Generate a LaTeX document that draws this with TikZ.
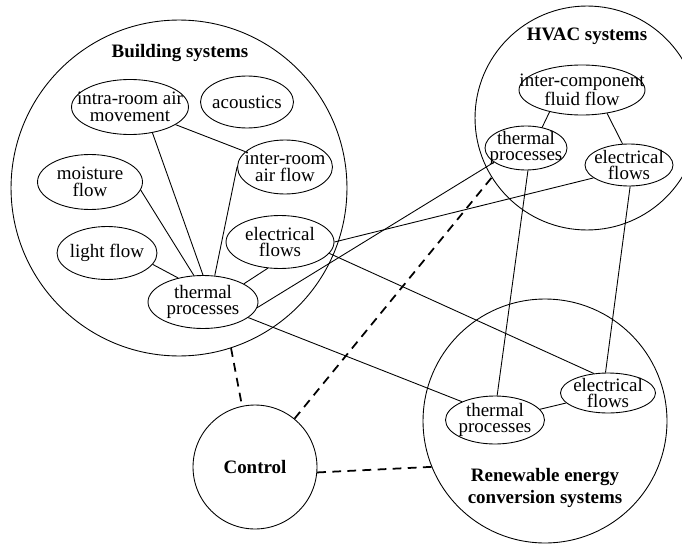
\documentclass[tikz,border=0pt]{standalone}
\usepackage{fontspec}
\setmainfont{Liberation Serif}
\usetikzlibrary{shapes.geometric}

\begin{document}
\begin{tikzpicture}[
    x=0.02cm, y=-0.02cm,
    system/.style={circle, draw, line width=0.5pt, inner sep=0pt},
    proc/.style={ellipse, draw, line width=0.5pt, inner sep=0pt},
    ptxt/.style={align=center, inner sep=0pt, font=\fontsize{10.8}{9.5}\selectfont},
    title/.style={align=center, font=\fontsize{10.8}{13}\selectfont\bfseries},
    link/.style={line width=0.5pt},
    ctrllink/.style={line width=1pt, dash pattern=on 5pt off 3.6pt}
]
\clip (0,0) rectangle (682,544);

% System circles
\node[system, minimum size=6.72cm] (bld) at (179,188) {};
\node[system, minimum size=4.48cm] (hvac) at (587,118) {};
\node[system, minimum size=4.88cm] (ren) at (545,421) {};
\node[system, minimum size=2.48cm, title] (ctrl) at (255,467) {Control};

% Building systems
\node[title] (bldlbl) at (180,53) {Building systems};
\node[proc, minimum width=2.34cm, minimum height=1.1cm, label={[ptxt]center:intra-room air\\movement}] (intra) at (130,107) {};
\node[proc, minimum width=1.86cm, minimum height=1.04cm, label={[ptxt]center:acoustics}] (acou) at (247,102) {};
\node[proc, minimum width=1.9cm, minimum height=1.08cm, label={[ptxt]center:inter-room\\air flow}] (inter) at (285,167) {};
\node[proc, minimum width=2.1cm, minimum height=1.1cm, label={[ptxt]center:moisture\\flow}] (moist) at (90,182) {};
\node[proc, minimum width=2.0cm, minimum height=1.06cm, label={[ptxt]center:light flow}] (light) at (107,253) {};
\node[proc, minimum width=2.16cm, minimum height=1.06cm, label={[ptxt]center:electrical\\flows}] (elecB) at (280,242) {};
\node[proc, minimum width=2.2cm, minimum height=1.06cm, label={[ptxt]center:thermal\\processes}] (thermB) at (203,302) {};

% HVAC systems
\node[title] (hvaclbl) at (587,36) {HVAC systems};
\node[proc, minimum width=2.52cm, minimum height=1.0cm, label={[ptxt]center:inter-component\\fluid flow}] (fluid) at (582,90) {};
\node[proc, minimum width=1.64cm, minimum height=0.88cm, label={[ptxt]center:thermal\\processes}] (thermH) at (526,148) {};
\node[proc, minimum width=1.76cm, minimum height=0.84cm, label={[ptxt]center:electrical\\flows}] (elecH) at (629,165) {};

% Renewable energy conversion systems
\node[proc, minimum width=1.98cm, minimum height=0.96cm, label={[ptxt]center:thermal\\processes}] (thermR) at (495,420) {};
\node[proc, minimum width=1.9cm, minimum height=0.8cm, label={[ptxt]center:electrical\\flows}] (elecR) at (608,393) {};
\node[title] (renlbl) at (545,488) {Renewable energy\\conversion systems};

% Links inside the systems
\draw[link] (intra.-49) -- (thermB.90);
\draw[link] (intra) -- (inter);
\draw[link] (moist.-9) -- (thermB.109);
\draw[link] (light.-14) -- (thermB.136);
\draw[link] (inter.180) -- (thermB.66);
\draw[link] (elecB.245) -- (thermB.24);
\draw[link] (fluid.214) -- (thermH.52);
\draw[link] (fluid.-43) -- (elecH.107);
\draw[link] (thermR) -- (elecR);

% Links between the systems
\draw[link] (thermB.-6) -- (thermH.204);
\draw[link] (thermB.-19) -- (thermR.151);
\draw[link] (elecB.0) -- (elecH.200);
\draw[link] (elecB.-13) -- (elecR.126);
\draw[link] (thermH.-85) -- (thermR.85);
\draw[link] (elecH.-87) -- (elecR.97);

% Control
\draw[ctrllink] (bld.-72) -- (ctrl.102);
\draw[ctrllink] (ctrl) -- (hvac.212);
\draw[ctrllink] (ctrl.-5) -- (ren.202);
\end{tikzpicture}
\end{document}
